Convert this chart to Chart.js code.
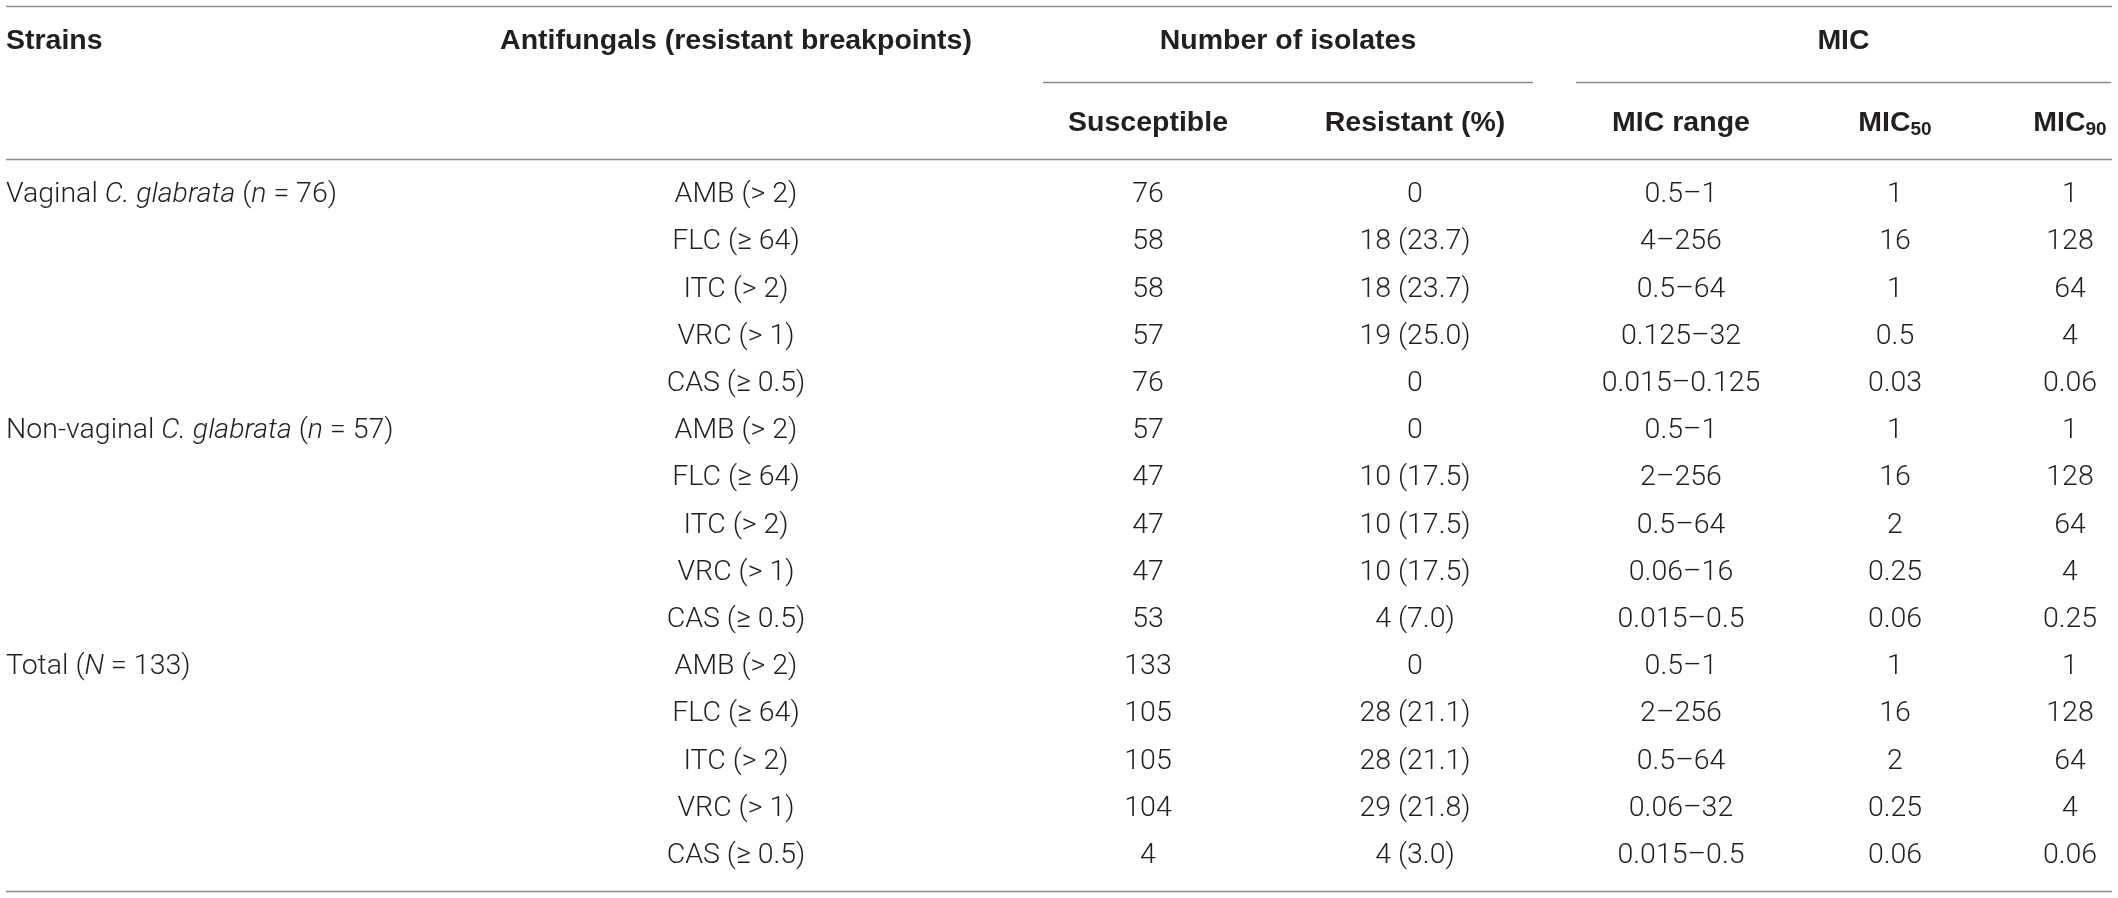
<!DOCTYPE html>
<html>
<head>
<meta charset="utf-8">
<script src="https://cdn.jsdelivr.net/npm/chart.js@4.4.1/dist/chart.umd.min.js"></script>
<style>
  html, body { margin: 0; padding: 0; background: #ffffff; }
  #wrap { width: 2118px; height: 898px; position: relative; }
</style>
</head>
<body>
<div id="wrap"><canvas id="myChart"></canvas></div>
<script>
// Table data
var strainNames = ['Vaginal', 'Non-vaginal', 'Total'];
var strainSpecies = ['C. glabrata', 'C. glabrata', ''];
var strainNSymbol = ['n', 'n', 'N'];
var strainCounts = [76, 57, 133];

var antifungals = ['AMB (> 2)', 'FLC (\u2265 64)', 'ITC (> 2)', 'VRC (> 1)', 'CAS (\u2265 0.5)'];

var susceptible = ['76', '58', '58', '57', '76',
                   '57', '47', '47', '47', '53',
                   '133', '105', '105', '104', '4'];
var resistant = ['0', '18 (23.7)', '18 (23.7)', '19 (25.0)', '0',
                 '0', '10 (17.5)', '10 (17.5)', '10 (17.5)', '4 (7.0)',
                 '0', '28 (21.1)', '28 (21.1)', '29 (21.8)', '4 (3.0)'];
var micRange = ['0.5\u20131', '4\u2013256', '0.5\u201364', '0.125\u201332', '0.015\u20130.125',
                '0.5\u20131', '2\u2013256', '0.5\u201364', '0.06\u201316', '0.015\u20130.5',
                '0.5\u20131', '2\u2013256', '0.5\u201364', '0.06\u201332', '0.015\u20130.5'];
var mic50 = ['1', '16', '1', '0.5', '0.03',
             '1', '16', '2', '0.25', '0.06',
             '1', '16', '2', '0.25', '0.06'];
var mic90 = ['1', '128', '64', '4', '0.06',
             '1', '128', '64', '4', '0.25',
             '1', '128', '64', '4', '0.06'];

// Header labels
var topHeaders = ['Strains', 'Antifungals (resistant breakpoints)'];
var groupHeaders = ['Number of isolates', 'MIC'];
var subHeaders = ['Susceptible', 'Resistant (%)', 'MIC range', 'MIC', 'MIC'];
var subHeaderSubs = ['', '', '', '50', '90'];

// Layout (x in canvas units, y in row units)
var colX = [6, 736, 1148, 1415, 1681, 1895, 2070];
var groupSpan = [[1043, 1533], [1576, 2111]];
var tableSpan = [6, 2112];
var yTopRule = -4.01, yHead1 = -3.26, ySubRule = -2.39, yHead2 = -1.53, yHeadRule = -0.77, yBottomRule = 14.75;

var bodyFont = '300 28.5px Roboto, "Liberation Sans", sans-serif';
var italicFont = 'italic 300 28.5px Roboto, "Liberation Sans", sans-serif';
var boldFont = 'bold 28.5px "Liberation Sans", Arial, sans-serif';
var subFont = 'bold 19px "Liberation Sans", Arial, sans-serif';
var textColor = '#231f20';
var ruleColor = '#8c8c8c';

var columns = [susceptible, resistant, micRange, mic50, mic90];

// One invisible scatter dataset per value column, one point per row
var datasets = [];
datasets.push({
  label: 'Antifungals',
  data: strainCounts.flatMap(function () {
    return antifungals.map(function (a, j) { return { x: colX[1], y: 0, label: a }; });
  }).map(function (p, i) { p.y = i; return p; }),
  pointRadius: 0
});
columns.forEach(function (col, c) {
  datasets.push({
    label: subHeaders[c] + subHeaderSubs[c],
    data: col.map(function (v, i) { return { x: colX[c + 2], y: i, label: v }; }),
    pointRadius: 0
  });
});

function drawRule(ctx, chart, x0, x1, yv) {
  var xs = chart.scales.x, ys = chart.scales.y;
  var y = Math.round(ys.getPixelForValue(yv)) + 0.5;
  ctx.beginPath();
  ctx.moveTo(xs.getPixelForValue(x0), y);
  ctx.lineTo(xs.getPixelForValue(x1), y);
  ctx.stroke();
}

// Draw segments of mixed style left to right
function drawSegments(ctx, segs, x, y) {
  segs.forEach(function (s) {
    ctx.font = s[1] ? italicFont : bodyFont;
    ctx.fillText(s[0], x, y);
    x += ctx.measureText(s[0]).width;
  });
}

var tablePlugin = {
  id: 'tableText',
  afterDatasetsDraw: function (chart) {
    var ctx = chart.ctx, xs = chart.scales.x, ys = chart.scales.y;
    ctx.save();
    ctx.strokeStyle = ruleColor;
    ctx.lineWidth = 1.5;
    drawRule(ctx, chart, tableSpan[0], tableSpan[1], yTopRule);
    drawRule(ctx, chart, tableSpan[0], tableSpan[1], yHeadRule);
    drawRule(ctx, chart, tableSpan[0], tableSpan[1], yBottomRule);
    groupSpan.forEach(function (g) { drawRule(ctx, chart, g[0], g[1], ySubRule); });

    ctx.fillStyle = textColor;
    ctx.textBaseline = 'middle';

    // Headers
    ctx.font = boldFont;
    ctx.textAlign = 'left';
    ctx.fillText(topHeaders[0], xs.getPixelForValue(colX[0]), ys.getPixelForValue(yHead1));
    ctx.textAlign = 'center';
    ctx.fillText(topHeaders[1], xs.getPixelForValue(colX[1]), ys.getPixelForValue(yHead1));
    groupHeaders.forEach(function (h, i) {
      var cx = (groupSpan[i][0] + groupSpan[i][1]) / 2;
      ctx.fillText(h, xs.getPixelForValue(cx), ys.getPixelForValue(yHead1));
    });
    subHeaders.forEach(function (h, i) {
      var cx = xs.getPixelForValue(colX[i + 2]);
      var cy = ys.getPixelForValue(yHead2);
      if (subHeaderSubs[i]) {
        ctx.font = boldFont;
        var w1 = ctx.measureText(h).width;
        ctx.font = subFont;
        var w2 = ctx.measureText(subHeaderSubs[i]).width;
        var x0 = cx - (w1 + w2) / 2;
        ctx.textAlign = 'left';
        ctx.font = boldFont;
        ctx.fillText(h, x0, cy);
        ctx.font = subFont;
        ctx.fillText(subHeaderSubs[i], x0 + w1, cy + 7);
        ctx.textAlign = 'center';
      } else {
        ctx.font = boldFont;
        ctx.fillText(h, cx, cy);
      }
    });

    // Strain group labels
    ctx.textAlign = 'left';
    strainNames.forEach(function (name, g) {
      var y = ys.getPixelForValue(g * antifungals.length);
      var segs = strainSpecies[g]
        ? [[name + ' ', false], [strainSpecies[g], true], [' (', false], [strainNSymbol[g], true], [' = ' + strainCounts[g] + ')', false]]
        : [[name + ' (', false], [strainNSymbol[g], true], [' = ' + strainCounts[g] + ')', false]];
      drawSegments(ctx, segs, xs.getPixelForValue(colX[0]), y);
    });

    // Body cells
    ctx.font = bodyFont;
    ctx.textAlign = 'center';
    chart.data.datasets.forEach(function (ds, d) {
      var meta = chart.getDatasetMeta(d);
      meta.data.forEach(function (pt, i) {
        ctx.fillText(ds.data[i].label, pt.x, pt.y);
      });
    });
    ctx.restore();
  }
};

var ctx = document.getElementById('myChart').getContext('2d');
var myChart = new Chart(ctx, {
  type: 'scatter',
  data: { datasets: datasets },
  options: {
    responsive: true,
    maintainAspectRatio: false,
    animation: false,
    layout: { padding: 0 },
    plugins: { legend: { display: false }, tooltip: { enabled: false } },
    scales: {
      x: { type: 'linear', min: 0, max: 2118, display: false },
      y: { type: 'linear', min: -4.13, max: 14.89, reverse: true, display: false }
    }
  },
  plugins: [tablePlugin]
});
</script>
</body>
</html>
